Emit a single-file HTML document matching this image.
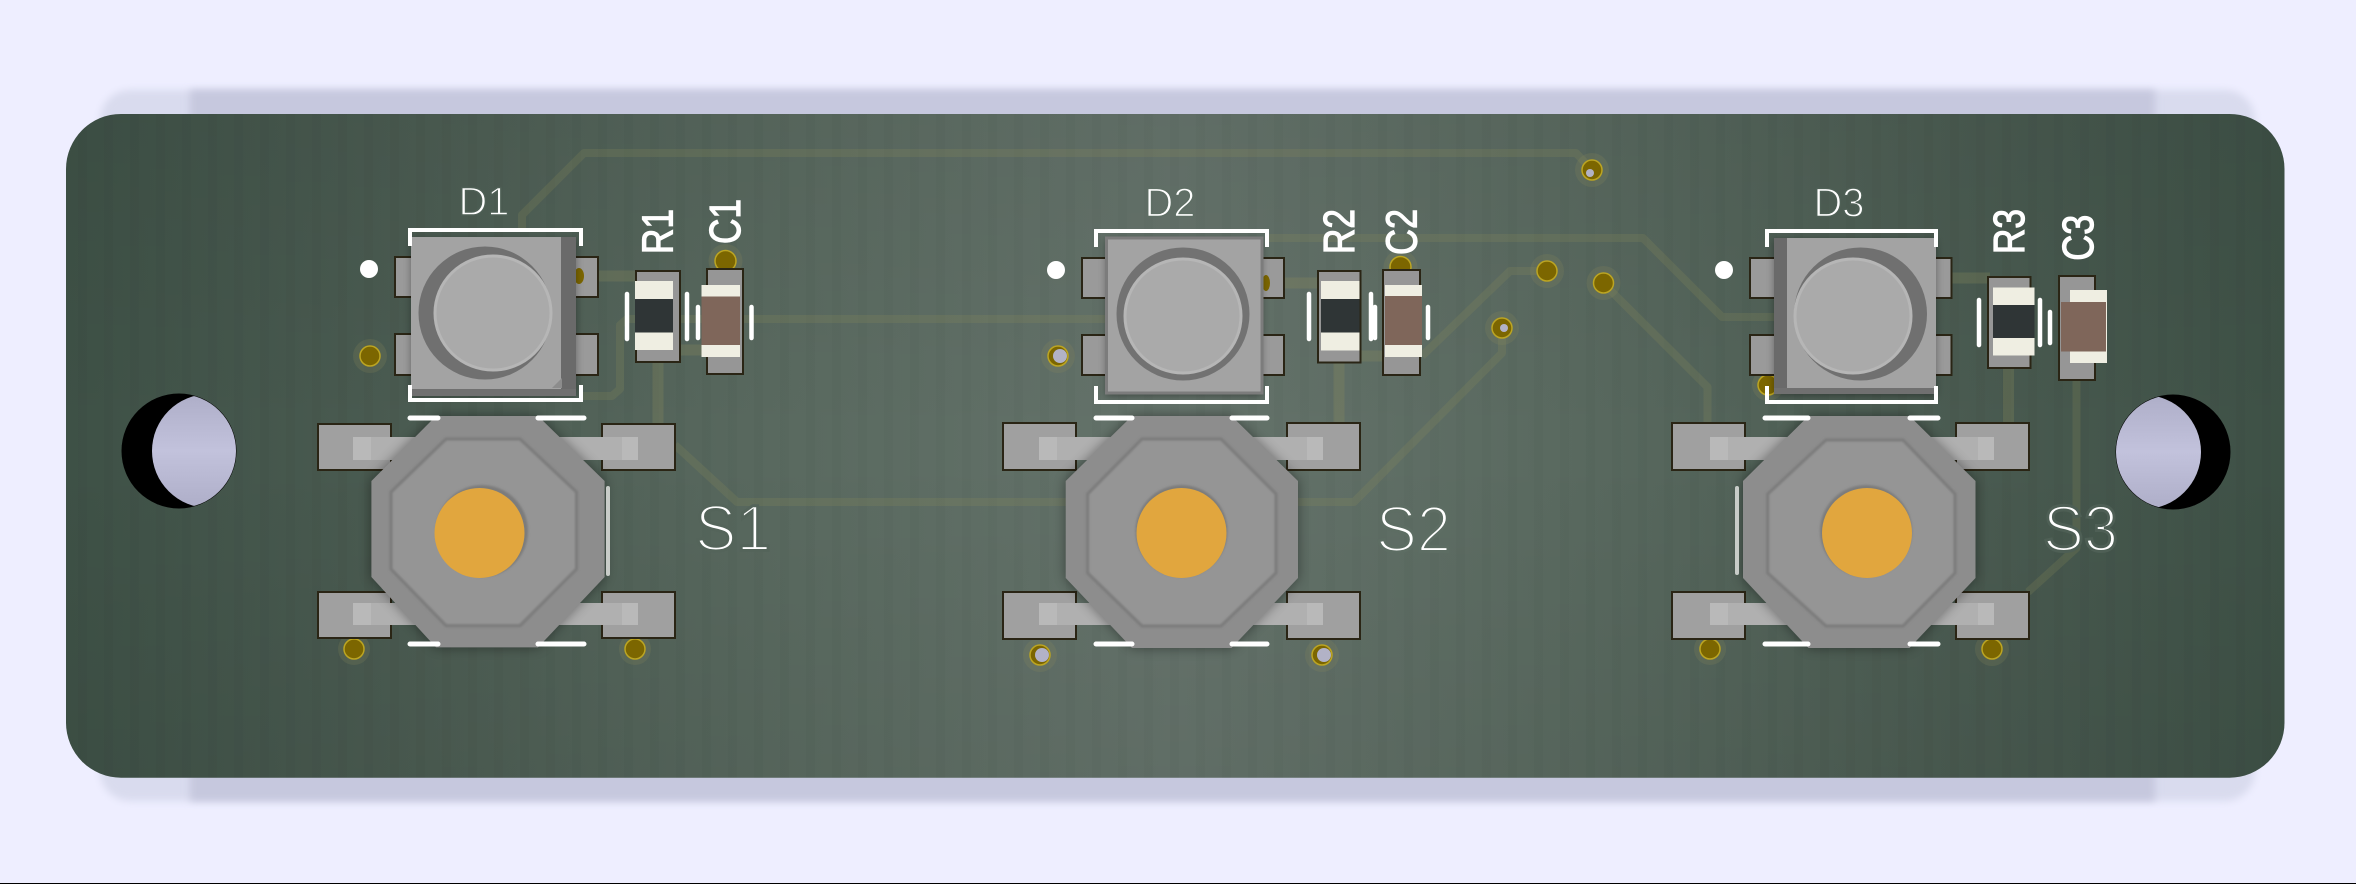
<!DOCTYPE html>
<html><head><meta charset="utf-8"><title>PCB</title>
<style>html,body{margin:0;padding:0;background:#eeeeff}svg{display:block}
text{font-family:"Liberation Sans",sans-serif;fill:#fff}
.b{stroke:#fff;stroke-width:1.2}</style></head>
<body>
<svg xmlns="http://www.w3.org/2000/svg" width="2356" height="884" viewBox="0 0 2356 884">
<defs>
<linearGradient id="bd" gradientUnits="userSpaceOnUse" x1="66" y1="0" x2="2285" y2="0">
<stop offset="0" stop-color="#3e5146"/><stop offset=".15" stop-color="#4a5b51"/><stop offset=".33" stop-color="#5a6a60"/><stop offset=".5" stop-color="#65736b"/><stop offset=".67" stop-color="#5a6a60"/><stop offset=".85" stop-color="#4a5b51"/><stop offset="1" stop-color="#3e5146"/></linearGradient>
<linearGradient id="bv" x1="0" y1="0" x2="0" y2="1"><stop offset="0" stop-color="#000" stop-opacity=".05"/><stop offset=".5" stop-color="#000" stop-opacity="0"/><stop offset="1" stop-color="#000" stop-opacity=".05"/></linearGradient>
<pattern id="st" width="26" height="10" patternUnits="userSpaceOnUse"><rect width="9" height="10" fill="#000" opacity=".018"/></pattern>
<filter id="b3" x="-5%" y="-20%" width="110%" height="140%"><feGaussianBlur stdDeviation="4"/></filter>
<filter id="b6" x="-30%" y="-30%" width="160%" height="160%"><feGaussianBlur stdDeviation="6"/></filter>
<filter id="b1" x="-10%" y="-10%" width="120%" height="120%"><feGaussianBlur stdDeviation="1"/></filter>
<linearGradient id="hole" x1="0" y1="0" x2="0" y2="1"><stop offset="0" stop-color="#aeaec8"/><stop offset=".5" stop-color="#c2c2dc"/><stop offset="1" stop-color="#aeaec8"/></linearGradient>
<clipPath id="hl"><circle cx="209" cy="451" r="57"/></clipPath>
<clipPath id="hr"><circle cx="2144" cy="452" r="57"/></clipPath>
</defs>
<rect width="2356" height="884" fill="#eeeeff"/>
<!-- drop shadows -->
<rect x="100" y="90" width="2155" height="711" rx="30" fill="#d9dbee" filter="url(#b3)"/>
<rect x="190" y="90" width="1965" height="711" fill="#c6c8de" filter="url(#b3)"/>
<!-- board -->
<rect x="66" y="114" width="2218.5" height="663.7" rx="55" fill="url(#bd)"/>
<rect x="66" y="114" width="2218.5" height="663.7" rx="55" fill="url(#bv)"/>
<rect x="66" y="114" width="2218.5" height="663.7" rx="55" fill="url(#st)"/>
<!-- traces -->
<g fill="none" stroke="#90905c" stroke-opacity=".2" stroke-width="8" stroke-linejoin="round">
<path d="M522 228V215L584 153H1576L1592 170"/>
<path d="M582 396H612L620 389V325L627 319H1106"/>
<path d="M675 445L737 502H1066"/>
<path d="M1298 502H1354L1502 353V328"/>
<path d="M1422 356L1510 271H1547"/>
<path d="M1269 238H1643L1722 317H1775"/>
<path d="M1603 283L1707.5 387V423"/>
<path d="M2076.5 380V548L2028 592"/>
</g>
<g fill="none" stroke="#90905c" stroke-opacity=".26" stroke-width="11">
<path d="M598 276H636M678 350H707M658 362V424"/>
<path d="M1284 283H1318M1360 356H1383M1339 362V423"/>
<path d="M1951 278H1990M2008.5 368V423"/>
</g>
<!-- holes -->
<circle cx="179" cy="451" r="57.5" fill="#000"/>
<circle cx="179" cy="451" r="57" fill="url(#hole)" clip-path="url(#hl)"/>
<circle cx="2173" cy="452" r="57.5" fill="#000"/>
<circle cx="2173" cy="452" r="57" fill="url(#hole)" clip-path="url(#hr)"/>
<!-- via halos -->
<g fill="#8a8a5c" fill-opacity=".22">
<circle cx="370" cy="356" r="17"/><circle cx="725.5" cy="261" r="17"/><circle cx="354" cy="649" r="16"/><circle cx="635" cy="649" r="16"/>
<circle cx="1058" cy="356" r="17"/><circle cx="1400.5" cy="267" r="17"/><circle cx="1547" cy="271" r="17"/><circle cx="1502" cy="328" r="17"/><circle cx="1592" cy="170" r="17"/><circle cx="1040" cy="655" r="17"/><circle cx="1322" cy="655" r="17"/>
<circle cx="1603.5" cy="283" r="17"/><circle cx="1768" cy="385" r="16"/><circle cx="1710" cy="649" r="16"/><circle cx="1992" cy="649" r="17"/>
</g>
<g fill="#7c6600" stroke="#bca522" stroke-width="1.5">
<circle cx="370" cy="356" r="10"/><circle cx="725.5" cy="261" r="10.5"/><circle cx="354" cy="649" r="10"/><circle cx="635" cy="649" r="10"/>
<circle cx="1400.5" cy="267" r="10.5"/><circle cx="1547" cy="271" r="10"/><circle cx="1502" cy="328" r="10"/><circle cx="1592" cy="170" r="10"/>
<circle cx="1058" cy="356" r="10"/><circle cx="1040" cy="655" r="10"/><circle cx="1322" cy="655" r="10"/>
<circle cx="1603.5" cy="283" r="10"/><circle cx="1768" cy="385" r="10"/><circle cx="1710" cy="649" r="10"/><circle cx="1992" cy="649" r="10"/>
</g>
<g fill="#b2b2c6"><circle cx="1060" cy="356" r="7"/><circle cx="1042" cy="655" r="7"/><circle cx="1324" cy="655" r="7"/><circle cx="1504" cy="328" r="4"/><circle cx="1590" cy="173" r="4"/></g>

<!-- D1 -->
<g>
<g fill="#9a9a9a" stroke="#2a2515" stroke-width="2">
<rect x="395" y="257" width="30" height="40"/><rect x="395" y="334" width="30" height="41"/>
<rect x="565" y="257" width="33" height="40"/><rect x="565" y="334" width="33" height="41"/></g>
<ellipse cx="579" cy="276" rx="5" ry="8" fill="#7c6600"/>
<rect x="411" y="240" width="165" height="156" fill="#000" opacity=".35" filter="url(#b3)"/>
<rect x="411" y="237" width="165" height="159" fill="#a3a3a3"/>
<rect x="561" y="237" width="15" height="159" fill="#6a6a6a"/>
<rect x="411" y="389" width="165" height="7" fill="#707070"/>
<path d="M562 388L552 388L562 378Z" fill="#8c8c8c"/>
<circle cx="485" cy="313" r="66.5" fill="#707070"/>
<ellipse cx="493" cy="313" rx="58" ry="57" fill="#aaaaaa" stroke="#b6b6b6" stroke-width="3"/>
<path d="M410 246V230H581V246M410 385V400H581V385" fill="none" stroke="#fff" stroke-width="4"/>
<circle cx="369" cy="269" r="9" fill="#fff"/>
<text x="458.5" y="215" font-size="40" textLength="51" lengthAdjust="spacingAndGlyphs" stroke="#4f6056" stroke-width="1.4">D1</text>
</g>
<!-- R1 C1 -->
<g fill="#969696" stroke="#2a2515" stroke-width="2"><rect x="636" y="271" width="44" height="91"/><rect x="707" y="269" width="36" height="105"/></g>
<rect x="635" y="281" width="38" height="69" fill="#efeee2"/><rect x="635" y="299" width="38" height="33.5" fill="#2f3536"/>
<rect x="701.5" y="285" width="38.5" height="72" fill="#efeee2"/><rect x="701.5" y="296.5" width="38.5" height="48.5" fill="#7f665a"/>
<g stroke="#fff" stroke-width="4.5" stroke-linecap="round"><path d="M627 294V339M687 294V339M698 307V338M751.5 307V338"/></g>
<text class="b" transform="translate(672.5 254) rotate(-90)" font-size="44" textLength="45" lengthAdjust="spacingAndGlyphs">R1</text>
<text class="b" transform="translate(740 244) rotate(-90)" font-size="44" textLength="45" lengthAdjust="spacingAndGlyphs">C1</text>
<!-- S1 -->
<g>
<g fill="#a0a0a0" stroke="#2a2515" stroke-width="2"><rect x="318" y="424" width="73" height="46"/><rect x="602" y="424" width="73" height="46"/><rect x="318" y="592" width="73" height="46"/><rect x="602" y="592" width="73" height="46"/></g>
<g fill="#b0b0b0"><rect x="353" y="437" width="285" height="23"/><rect x="353" y="603" width="285" height="22"/></g>
<g fill="#b9b9b9"><rect x="353" y="437" width="18" height="23"/><rect x="622" y="437" width="16" height="23"/><rect x="353" y="603" width="18" height="22"/><rect x="622" y="603" width="16" height="22"/></g>
<polygon points="436,416 538,416 604.6,481 604.6,577 538,647.4 436,647.4 371.4,577 371.4,481" fill="#000" opacity=".4" filter="url(#b6)"/>
<polygon points="436,416 538,416 604.6,481 604.6,577 538,647.4 436,647.4 371.4,577 371.4,481" fill="#8d8d8d"/>
<polygon points="446,439 520,439 576.5,492 576.5,569 520,625.6 446,625.6 391,569 391,492" fill="#959595" stroke="#7a7a7a" stroke-width="3" filter="url(#b1)"/>
<circle cx="482" cy="531" r="46" fill="#7c7c7c" filter="url(#b1)"/>
<circle cx="479.5" cy="533" r="45" fill="#e1a63e"/>
<path d="M410 418H438M538 418H584M410 644H438M538 644H584" stroke="#fff" stroke-width="5" stroke-linecap="round" fill="none"/>
<path d="M608 488V574" stroke="#c8ccc8" stroke-width="4" stroke-linecap="round" fill="none"/>
<text x="695" y="550.6" font-size="65" textLength="76" lengthAdjust="spacingAndGlyphs" stroke="#54645a" stroke-width="3">S1</text>
</g>

<!-- D2 -->
<g>
<g fill="#9a9a9a" stroke="#2a2515" stroke-width="2">
<rect x="1082" y="258" width="30" height="40"/><rect x="1082" y="335" width="30" height="40"/>
<rect x="1255" y="258" width="29" height="40"/><rect x="1255" y="335" width="29" height="40"/></g>
<ellipse cx="1266" cy="283" rx="4" ry="8" fill="#7c6600"/>
<rect x="1106" y="240" width="156" height="156" fill="#000" opacity=".35" filter="url(#b3)"/>
<rect x="1106.5" y="238" width="155.5" height="155" fill="#a3a3a3" stroke="#7c7c7c" stroke-width="3"/>
<circle cx="1183" cy="314" r="66.5" fill="#727272"/>
<ellipse cx="1183" cy="316" rx="58" ry="57" fill="#aaaaaa" stroke="#b6b6b6" stroke-width="3"/>
<path d="M1096 247V231H1267V247M1096 386V402H1267V386" fill="none" stroke="#fff" stroke-width="4"/>
<circle cx="1056" cy="270" r="9" fill="#fff"/>
<text x="1144.5" y="216.5" font-size="41" textLength="51" lengthAdjust="spacingAndGlyphs" stroke="#5f6f65" stroke-width="1.4">D2</text>
</g>
<g fill="#969696" stroke="#2a2515" stroke-width="2"><rect x="1318" y="271" width="42.5" height="91.5"/><rect x="1383" y="270" width="37" height="105"/></g>
<rect x="1321" y="281" width="38.5" height="69.5" fill="#efeee2"/><rect x="1321" y="299" width="38.5" height="33.5" fill="#2f3536"/>
<rect x="1385" y="285" width="37" height="72" fill="#efeee2"/><rect x="1385" y="296" width="37" height="49" fill="#7f665a"/>
<g stroke="#fff" stroke-width="4.5" stroke-linecap="round"><path d="M1309 294V339M1371 294V339M1375 307V338M1428 307V338"/></g>
<text class="b" transform="translate(1354 254) rotate(-90)" font-size="44" textLength="45" lengthAdjust="spacingAndGlyphs">R2</text>
<text class="b" transform="translate(1416.7 255) rotate(-90)" font-size="44" textLength="46" lengthAdjust="spacingAndGlyphs">C2</text>
<!-- S2 -->
<g>
<g fill="#a0a0a0" stroke="#2a2515" stroke-width="2"><rect x="1003" y="423" width="73" height="47"/><rect x="1287" y="423" width="73" height="47"/><rect x="1003" y="592" width="73" height="47"/><rect x="1287" y="592" width="73" height="47"/></g>
<g fill="#b0b0b0"><rect x="1039" y="437" width="284" height="23"/><rect x="1039" y="603" width="284" height="22"/></g>
<g fill="#b9b9b9"><rect x="1039" y="437" width="18" height="23"/><rect x="1307" y="437" width="16" height="23"/><rect x="1039" y="603" width="18" height="22"/><rect x="1307" y="603" width="16" height="22"/></g>
<polygon points="1132,416 1231.5,416 1298,481 1298,578 1231.5,648 1132,648 1065.7,578 1065.7,481" fill="#000" opacity=".4" filter="url(#b6)"/>
<polygon points="1132,416 1231.5,416 1298,481 1298,578 1231.5,648 1132,648 1065.7,578 1065.7,481" fill="#8d8d8d"/>
<polygon points="1142,439 1221,439 1276,494 1276,573 1221,626 1142,626 1087.6,573 1087.6,494" fill="#959595" stroke="#7a7a7a" stroke-width="3" filter="url(#b1)"/>
<circle cx="1181.5" cy="531" r="46" fill="#7c7c7c" filter="url(#b1)"/>
<circle cx="1181.5" cy="533" r="45" fill="#e1a63e"/>
<path d="M1096 418H1132M1232 418H1267M1096 644H1132M1232 644H1267" stroke="#fff" stroke-width="5" stroke-linecap="round" fill="none"/>
<text x="1376" y="551.5" font-size="65" textLength="75" lengthAdjust="spacingAndGlyphs" stroke="#5d6d63" stroke-width="3">S2</text>
</g>

<!-- D3 -->
<g>
<g fill="#9a9a9a" stroke="#2a2515" stroke-width="2">
<rect x="1750" y="258" width="30" height="40"/><rect x="1750" y="335" width="30" height="40"/>
<rect x="1925" y="258" width="26.5" height="40"/><rect x="1925" y="335" width="26.5" height="40"/></g>
<rect x="1774" y="240" width="162" height="156" fill="#000" opacity=".35" filter="url(#b3)"/>
<rect x="1774" y="238" width="162" height="156" fill="#a3a3a3"/>
<rect x="1774" y="238" width="13" height="156" fill="#6a6a6a"/>
<rect x="1774" y="388" width="162" height="6" fill="#707070"/>
<circle cx="1860.5" cy="314" r="66.5" fill="#707070"/>
<ellipse cx="1853" cy="316" rx="58" ry="57" fill="#aaaaaa" stroke="#b6b6b6" stroke-width="3"/>
<path d="M1767 247V231H1936V247M1767 386V402H1936V386" fill="none" stroke="#fff" stroke-width="4"/>
<circle cx="1724" cy="270" r="9" fill="#fff"/>
<text x="1813.5" y="216.5" font-size="41" textLength="51" lengthAdjust="spacingAndGlyphs" stroke="#4f6056" stroke-width="1.4">D3</text>
</g>
<g fill="#969696" stroke="#2a2515" stroke-width="2"><rect x="1988" y="277" width="42.5" height="91"/><rect x="2059" y="276" width="36" height="104"/></g>
<rect x="1993" y="287.5" width="41.5" height="68" fill="#efeee2"/><rect x="1993" y="305" width="41.5" height="33" fill="#2f3536"/>
<rect x="2070" y="290" width="37" height="73" fill="#efeee2"/><rect x="2061" y="302" width="45" height="49.5" fill="#7f665a"/>
<g stroke="#fff" stroke-width="4.5" stroke-linecap="round"><path d="M1979 300V345M2040 300V345M2050 312V343"/></g>
<text class="b" transform="translate(2024 254) rotate(-90)" font-size="44" textLength="45" lengthAdjust="spacingAndGlyphs">R3</text>
<text class="b" transform="translate(2093 260.7) rotate(-90)" font-size="44" textLength="46" lengthAdjust="spacingAndGlyphs">C3</text>
<!-- S3 -->
<g>
<g fill="#a0a0a0" stroke="#2a2515" stroke-width="2"><rect x="1672" y="423" width="73" height="47"/><rect x="1956" y="423" width="73" height="47"/><rect x="1672" y="592" width="73" height="47"/><rect x="1956" y="592" width="73" height="47"/></g>
<g fill="#b0b0b0"><rect x="1710" y="437" width="284" height="23"/><rect x="1710" y="603" width="284" height="22"/></g>
<g fill="#b9b9b9"><rect x="1710" y="437" width="18" height="23"/><rect x="1978" y="437" width="16" height="23"/><rect x="1710" y="603" width="18" height="22"/><rect x="1978" y="603" width="16" height="22"/></g>
<polygon points="1808.5,416 1909.5,416 1975.5,481 1975.5,578 1909.5,648 1808.5,648 1743,578 1743,481" fill="#000" opacity=".4" filter="url(#b6)"/>
<polygon points="1808.5,416 1909.5,416 1975.5,481 1975.5,578 1909.5,648 1808.5,648 1743,578 1743,481" fill="#8d8d8d"/>
<polygon points="1826,440 1903,440 1955,494 1955,573 1903,626 1826,626 1767.7,573 1767.7,494" fill="#959595" stroke="#7a7a7a" stroke-width="3" filter="url(#b1)"/>
<circle cx="1866" cy="531" r="46" fill="#7c7c7c" filter="url(#b1)"/>
<circle cx="1867" cy="533" r="45" fill="#e1a63e"/>
<path d="M1765 418H1808M1910 418H1938M1765 644H1808M1910 644H1938" stroke="#fff" stroke-width="5" stroke-linecap="round" fill="none"/>
<path d="M1737 488V573" stroke="#c8ccc8" stroke-width="4" stroke-linecap="round" fill="none"/>
<text x="2043" y="551" font-size="65" textLength="75" lengthAdjust="spacingAndGlyphs" stroke="#4e5f55" stroke-width="3">S3</text>
</g>
<rect y="883" width="2356" height="1" fill="#000"/>
</svg>
</body></html>
